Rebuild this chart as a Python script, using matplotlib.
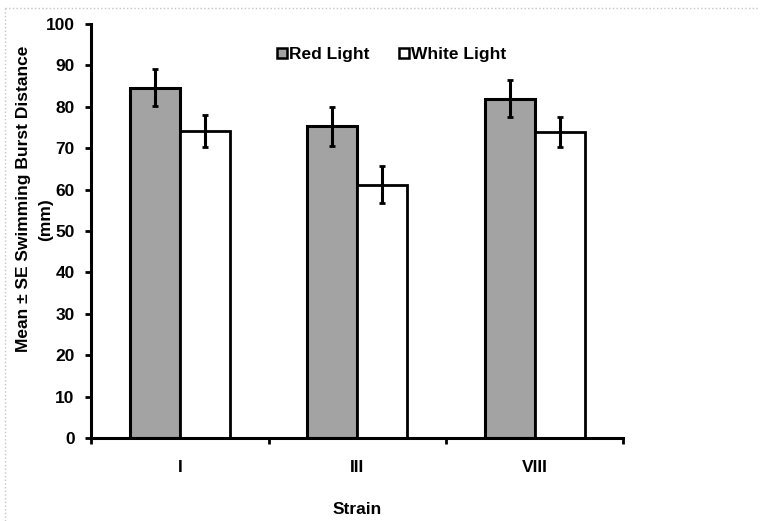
import numpy as np
import matplotlib
matplotlib.use("Agg")
import matplotlib.pyplot as plt
from matplotlib.lines import Line2D

plt.rcParams['font.family'] = ['Liberation Sans', 'DejaVu Sans']
plt.rcParams['font.weight'] = 'bold'

# burst distance per strain (mm), mean and standard error
strains = ['I', 'III', 'VIII']
red_mean = [84.6, 75.3, 82.0]
red_se = [4.5, 4.7, 4.4]
white_mean = [74.1, 61.2, 74.0]
white_se = [3.9, 4.5, 3.6]

fig = plt.figure(figsize=(7.6, 5.21), dpi=100)
ax = fig.add_axes([0.12, 0.159, 0.70, 0.795])

x = np.arange(len(strains))
w = 0.282
ax.bar(x - w / 2, red_mean, w, color='#a3a3a3', edgecolor='black', linewidth=2.2,
       label='Red Light', zorder=2)
ax.bar(x + w / 2, white_mean, w, color='white', edgecolor='black', linewidth=2.0,
       label='White Light', zorder=2)
ax.errorbar(x - w / 2, red_mean, yerr=red_se, fmt='none', ecolor='black',
            elinewidth=2.2, capsize=2, capthick=2, zorder=3)
ax.errorbar(x + w / 2, white_mean, yerr=white_se, fmt='none', ecolor='black',
            elinewidth=2.2, capsize=2, capthick=2, zorder=3)

ax.set_xlim(-0.5, len(strains) - 0.5)
ax.set_ylim(0, 100)
ax.set_yticks(np.arange(0, 101, 10))
ax.set_xticks(x)
ax.set_xticklabels(strains, fontsize=12.5, fontweight='bold')
ax.tick_params(axis='x', length=0, pad=16)
ax.set_xticks(np.arange(len(strains) + 1) - 0.5, minor=True)
ax.tick_params(axis='x', which='minor', length=4, width=2, direction='out')
ax.tick_params(axis='y', length=4, width=2, direction='out', labelsize=12.5, pad=8)
for lab in ax.get_yticklabels():
    lab.set_fontweight('bold')

for s in ['top', 'right']:
    ax.spines[s].set_visible(False)
for s in ['left', 'bottom']:
    ax.spines[s].set_linewidth(2.2)

ax.set_xlabel('Strain', fontsize=12.5, fontweight='bold', labelpad=19)

fig.text(24 / 760, 1 - 199 / 521, 'Mean \u00b1 SE Swimming Burst Distance',
         rotation=90, ha='center', va='center', fontsize=12.5, fontweight='bold')
fig.text(46 / 760, 1 - 220 / 521, '(mm)', rotation=90, ha='center', va='center',
         fontsize=12.5, fontweight='bold')

handles = [Line2D([], [], marker='s', linestyle='none', markersize=7,
                  markerfacecolor='#a3a3a3', markeredgecolor='black', markeredgewidth=1.8),
           Line2D([], [], marker='s', linestyle='none', markersize=7,
                  markerfacecolor='white', markeredgecolor='black', markeredgewidth=1.8)]
ax.legend(handles, ['Red Light', 'White Light'], loc='upper center',
          bbox_to_anchor=(0.565, 0.982), ncol=2, frameon=False,
          handlelength=0.6, handletextpad=0.1, columnspacing=1.7,
          prop={'weight': 'bold', 'size': 12.5})

# light frame along the top and left edges
fig.add_artist(Line2D([0.006, 1.0], [0.985, 0.985], color='#c4c4c4', lw=1, ls=':'))
fig.add_artist(Line2D([0.006, 0.006], [0.0, 0.985], color='#c4c4c4', lw=1, ls=':'))

fig.savefig('out.png', dpi=100)
